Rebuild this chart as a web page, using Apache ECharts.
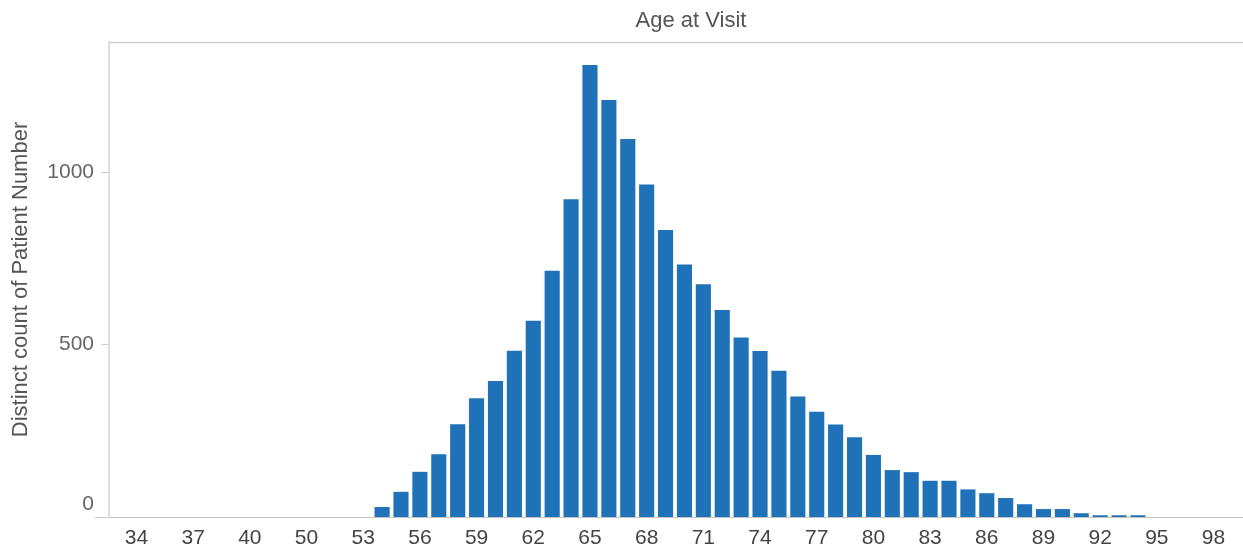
<!DOCTYPE html>
<html>
<head>
<meta charset="utf-8">
<script src="https://cdn.jsdelivr.net/npm/echarts@6/dist/echarts.min.js"></script>
<style>
html,body{margin:0;padding:0;background:#fff;}
#chart{width:1243px;height:552px;}
</style>
</head>
<body>
<div id="chart"></div>
<script>
var titleText = 'Age at Visit';
var yAxisName = 'Distinct count of Patient Number';
var ages = ['34','35','36','37','38','39','40','42','46','50','51','52','53',
  '54','55','56','57','58','59','60','61','62','63','64','65','66','67','68','69','70',
  '71','72','73','74','75','76','77','78','79','80','81','82','83','84','85','86','87',
  '88','89','90','91','92','93','94','95','96','97','98'];
var patientCounts = [0,0,0,0,0,0,0,0,0,0,0,0,0,
  29,73,131,182,269,344,394,482,569,714,921,1310,1209,1096,964,832,732,
  675,600,520,481,424,349,305,268,231,180,136,130,105,105,80,69,55,
  37,23,23,11,5,5,5,0,0,0,0];
var yTicks = [0, 500, 1000];

var chart = echarts.init(document.getElementById('chart'));
chart.setOption({
  animation: false,
  backgroundColor: '#ffffff',
  title: {
    text: titleText,
    left: 686,
    top: 5,
    textAlign: 'center',
    textStyle: {fontFamily: 'Liberation Sans', fontSize: 22, fontWeight: 'normal', color: '#555'}
  },
  grid: {left: 127, right: 20, top: 42, bottom: 35},
  graphic: [
    {type: 'line', shape: {x1: 109, y1: 42.5, x2: 1243, y2: 42.5}, style: {stroke: '#d0d0d0', lineWidth: 1.5}, silent: true},
    {type: 'line', shape: {x1: 95, y1: 517.5, x2: 1243, y2: 517.5}, style: {stroke: '#c4c4c4', lineWidth: 1}, silent: true}
  ],
  xAxis: {
    type: 'category',
    data: ages,
    axisLine: {show: false},
    axisTick: {show: false},
    axisLabel: {
      interval: 2,
      margin: 11,
      fontFamily: 'Liberation Sans',
      fontSize: 21,
      color: '#444'
    }
  },
  yAxis: {
    type: 'value',
    min: 0,
    max: 1377,
    interval: 500,
    offset: 18,
    name: yAxisName,
    nameLocation: 'middle',
    nameGap: 77,
    nameTextStyle: {fontFamily: 'Liberation Sans', fontSize: 22, color: '#555'},
    axisLine: {show: true, lineStyle: {color: '#d4d4d4', width: 1.5}},
    axisTick: {show: true, length: 8, lineStyle: {color: '#cfcfcf'}},
    splitLine: {show: false},
    axisLabel: {
      margin: 15,
      showMaxLabel: false,
      fontFamily: 'Liberation Sans',
      fontSize: 21,
      color: '#666',
      formatter: function (v) {
        if (yTicks.indexOf(v) < 0) return '';
        return v === 0 ? '{z|0}' : String(v);
      },
      rich: {z: {fontFamily: 'Liberation Sans', fontSize: 21, color: '#666', padding: [0, 0, 26, 0]}}
    }
  },
  series: [{
    type: 'bar',
    data: patientCounts,
    barCategoryGap: '20%',
    itemStyle: {color: '#1f72b8'}
  }]
});
</script>
</body>
</html>
